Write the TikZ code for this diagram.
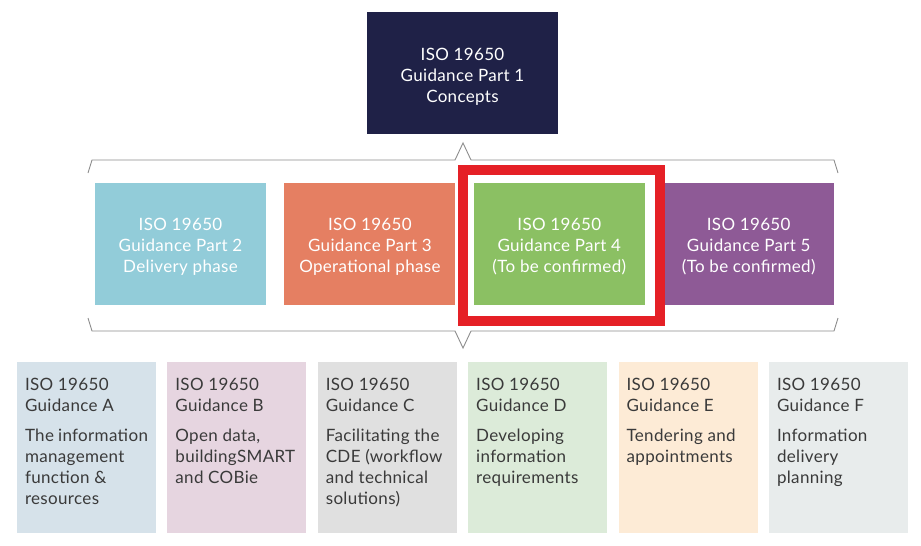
\documentclass[tikz,border=0pt]{standalone}
\usepackage{fontspec}
\setmainfont{Lato}[LetterSpace=2]
\usetikzlibrary{positioning}

\definecolor{navy}{HTML}{1F2147}
\definecolor{partblue}{HTML}{92CCD9}
\definecolor{partorange}{HTML}{E57F62}
\definecolor{partgreen}{HTML}{8BC063}
\definecolor{partpurple}{HTML}{8E5A96}
\definecolor{guideA}{HTML}{D6E2EA}
\definecolor{guideB}{HTML}{E6D5E0}
\definecolor{guideC}{HTML}{E0E0E0}
\definecolor{guideD}{HTML}{DCEBD9}
\definecolor{guideE}{HTML}{FDEBD6}
\definecolor{guideF}{HTML}{E8ECEC}
\definecolor{txtgray}{HTML}{3A3A3A}
\definecolor{bracegray}{HTML}{8C8C8C}
\definecolor{framered}{HTML}{E52026}

\newcommand{\parttext}[2][6pt]{\parbox[c][122pt][c]{165pt}{\centering\vspace*{#1}#2}}
\newcommand{\guidetext}[3]{\parbox[t][139pt][t]{123pt}{ISO 19650\\Guidance #1\par\vspace{9pt}#2\\#3}}

\begin{document}
\begin{tikzpicture}[
            x=1pt, y=-1pt,
            node distance=18pt,
            % upper boxes
            part/.style={
                rectangle,
                minimum width=171pt,
                minimum height=122pt,
                inner sep=0pt,
                text=white,
                font=\fontsize{17}{21}\selectfont
            },
            % lower boxes
            guide/.style={
                rectangle,
                minimum width=139pt,
                minimum height=171pt,
                inner sep=0pt,
                text=txtgray,
                font=\fontsize{17}{21}\selectfont
            },
            brace/.style={draw=bracegray, line width=0.9pt, line join=miter},
            redframe/.style={draw=framered, line width=10pt}
        ]

        \useasboundingbox (0,0) rectangle (921,546);

        % Part 1
        \node[part, fill=navy, minimum width=191pt] (p1) at (462.5,73) {\parttext[8pt]{ISO 19650\\Guidance Part 1\\Concepts}};

        % Parts 2 to 5
        \node[part, fill=partblue] (p2) at (180.5,244) {\parttext{ISO 19650\\Guidance Part 2\\Delivery phase}};
        \node[part, fill=partorange, right=of p2] (p3) {\parttext{ISO 19650\\Guidance Part 3\\Operational phase}};
        \node[part, fill=partgreen, right=of p3] (p4) {\parttext{ISO 19650\\Guidance Part 4\\(To be confirmed)}};
        \node[part, fill=partpurple, right=of p4] (p5) {\parttext{ISO 19650\\Guidance Part 5\\(To be confirmed)}};

        % highlight
        \draw[redframe] ([shift={(-11,-13)}]p4.north west) rectangle ([shift={(15,16)}]p4.south east);

        % Braces
        \draw[brace] (88,173) -- (92,160) -- (455,160) -- (463,143) -- (471,160) -- (834,160) -- (838,173);
        \draw[brace] (88,318) -- (92,331) -- (455,331) -- (463,348) -- (471,331) -- (834,331) -- (838,318);

        % Guidance A to F
        \begin{scope}[node distance=11pt]
        \node[guide, fill=guideA] (ga) at (86.5,447.5) {\guidetext{A}{The information\\management\\function \&}{resources}};
        \node[guide, fill=guideB, right=of ga] (gb) {\guidetext{B}{Open data,\\buildingSMART}{and COBie}};
        \node[guide, fill=guideC, right=of gb] (gc) {\guidetext{C}{Facilitating the\\CDE (workflow\\and technical}{solutions)}};
        \node[guide, fill=guideD, right=of gc] (gd) {\guidetext{D}{Developing\\information}{requirements}};
        \node[guide, fill=guideE, right=of gd] (ge) {\guidetext{E}{Tendering and}{appointments}};
        \node[guide, fill=guideF, right=of ge] (gf) {\guidetext{F}{Information\\delivery}{planning}};
        \end{scope}

        \end{tikzpicture}
\end{document}
